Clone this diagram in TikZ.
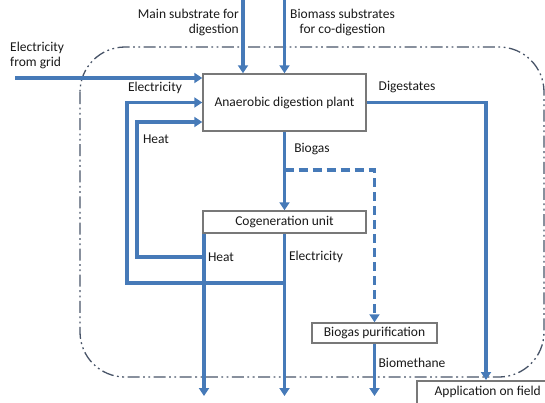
\documentclass[tikz,border=0pt]{standalone}
\usepackage{fontspec}
\setmainfont{Carlito}
\usetikzlibrary{arrows.meta}
\definecolor{flow}{RGB}{70,122,184}
\definecolor{boxline}{RGB}{120,120,120}
\definecolor{framec}{RGB}{72,84,104}
\definecolor{txt}{RGB}{25,25,25}
\begin{document}
\begin{tikzpicture}[x=1pt,y=-1pt,
  lbl/.style={font=\fontsize{13.5}{15}\selectfont, text=txt, inner sep=0pt},
  box/.style={draw=boxline, line width=1.5pt, fill=white, font=\fontsize{13.5}{15}\selectfont, text=txt, inner sep=0pt},
  flowline/.style={draw=flow, line width=3.2pt},
  tip/.style={-{Triangle[width=10pt,length=8pt]}},
  dashflow/.style={dash pattern=on 9pt off 5pt},
  frame/.style={draw=framec, line width=1.3pt, dash pattern=on 12pt off 3.5pt on 1.8pt off 3.5pt on 1.8pt off 3.5pt, rounded corners=45pt}]
\useasboundingbox (0,0) rectangle (545,402);

% system boundary
\draw[frame] (80,47) rectangle (544,377);

% helper coordinates
\coordinate (gridsrc) at (15,78);
\coordinate (mssrc) at (243,0);
\coordinate (bmsrc) at (284.5,0);
\coordinate (outy) at (0,396);
\coordinate (hx) at (204,0);
\coordinate (heatY) at (0,257);
\coordinate (hloopx) at (137,0);
\coordinate (heatin) at (0,122);
\coordinate (elecY) at (0,283);
\coordinate (eloopx) at (127,0);
\coordinate (elecin) at (0,102.5);
\coordinate (digx) at (486,0);
\coordinate (bgsplit) at (284.5,170);
\coordinate (bgcorner) at (374.5,170);

% boxes
\node[box, minimum width=163pt, minimum height=57pt] (ad) at (284.5,102.5) {Anaerobic digestion plant};
\node[box, minimum width=163pt, minimum height=22pt] (cogen) at (284.5,222) {Cogeneration unit};
\node[box, minimum width=125pt, minimum height=20pt] (purif) at (374.5,333) {Biogas purification};
\node[box, anchor=north west, minimum width=142pt, minimum height=23pt] (app) at (416,380) {Application on field};

% flows
\draw[flowline,tip] (gridsrc) -- (ad.west |- gridsrc);
\draw[flowline,tip] (mssrc) -- (mssrc |- ad.north);
\draw[flowline,tip] (bmsrc) -- (bmsrc |- ad.north);
\draw[flowline,tip] (ad.south) -- (cogen.north);
\draw[flowline,dashflow,tip] (bgsplit) -- (bgcorner) -- (purif.north);
\draw[flowline,tip] (purif.south) -- (purif.south |- outy);
\draw[flowline,tip] (hx |- cogen.south) -- (hx |- outy);
\draw[flowline,tip] (cogen.south) -- (cogen.south |- outy);
\draw[flowline,tip] (hx |- heatY) -- (hloopx |- heatY) -- (hloopx |- heatin) -- (ad.west |- heatin);
\draw[flowline,tip] (cogen.south |- elecY) -- (eloopx |- elecY) -- (eloopx |- elecin) -- (ad.west |- elecin);
\draw[flowline,tip] (ad.east) -- (digx |- ad.east) -- (digx |- app.north);

% labels
\node[lbl, anchor=west, align=left] (lgrid) at (10,55) {Electricity\\from grid};
\node[lbl, anchor=east, align=right] (lmain) at (239,22) {Main substrate for\\digestion};
\node[lbl, anchor=west, align=center] (lbio) at (290,22) {Biomass substrates\\for co-digestion};
\node[lbl] (lelec1) at (155,88) {Electricity};
\node[lbl] (lheat1) at (156,139) {Heat};
\node[lbl] (lbiogas) at (312,149) {Biogas};
\node[lbl] (ldig) at (407,87) {Digestates};
\node[lbl] (lheat2) at (221,257) {Heat};
\node[lbl] (lelec2) at (316,257) {Electricity};
\node[lbl] (lbiometh) at (412,363) {Biomethane};
\end{tikzpicture}
\end{document}
